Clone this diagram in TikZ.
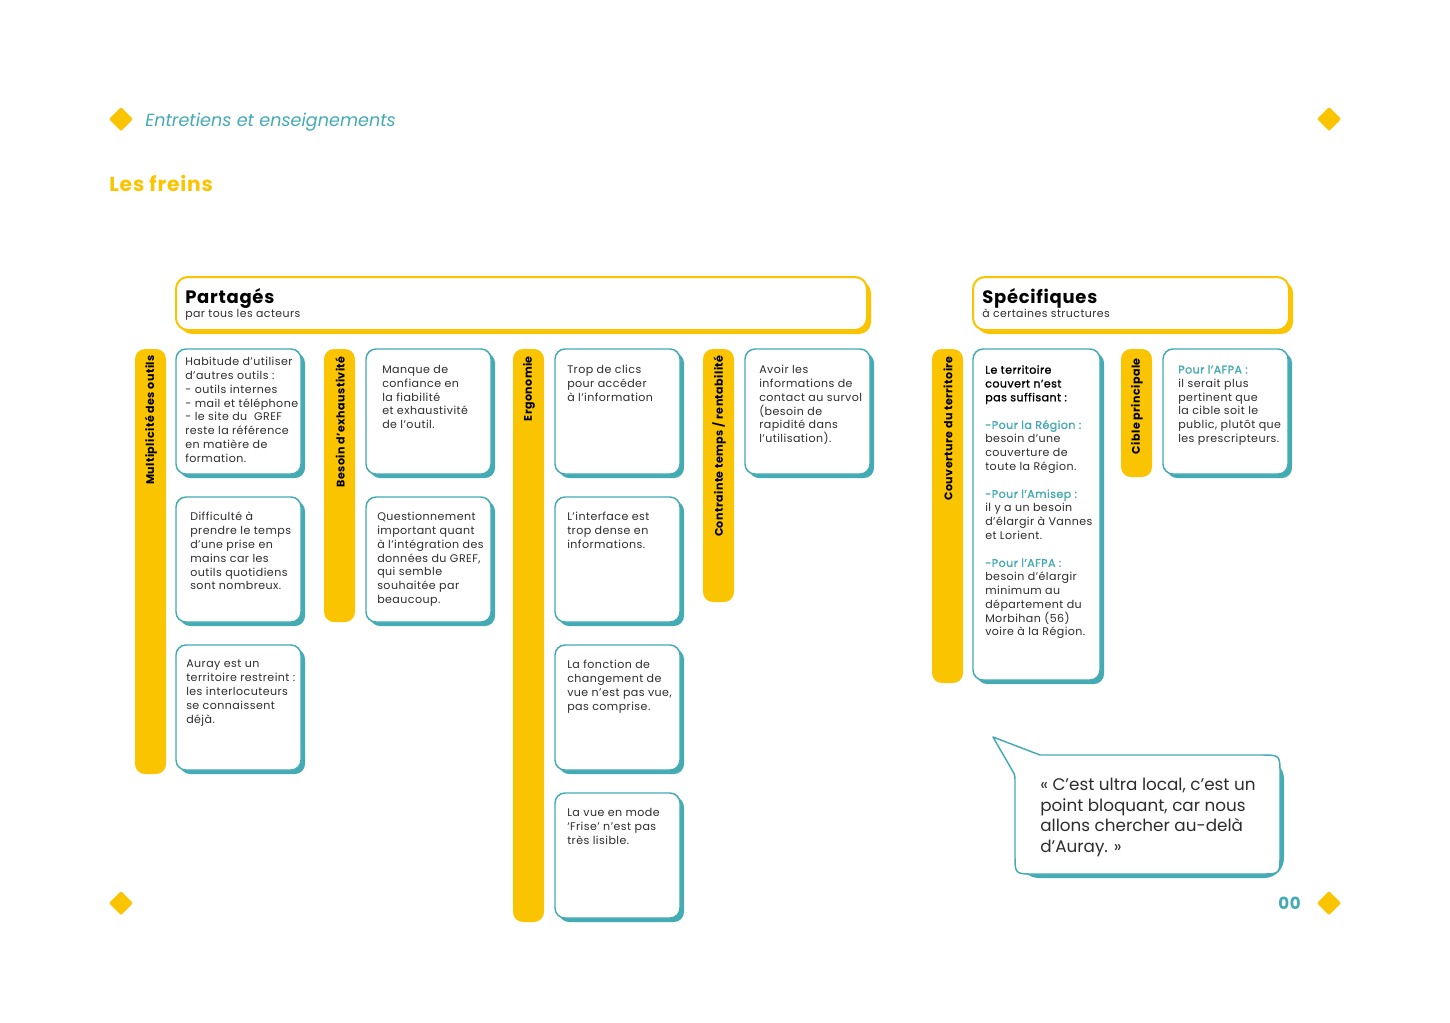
\documentclass[tikz,border=0pt]{standalone}
\usepackage{fontspec}
\setmainfont{Poppins}[LetterSpace=4]
\newfontfamily\plainfont{Poppins}
\newfontfamily\medfont{Poppins}[FakeBold=1.3,LetterSpace=4]
\definecolor{myyellow}{RGB}{250,196,0}
\definecolor{myteal}{RGB}{68,170,180}
\definecolor{mytext}{RGB}{45,45,45}
\newcommand\mkcard[4]{%
  \fill[cardshadow] ({#1+4},{#2+4}) rectangle ({#1+#3+4},{#2+#4+4});
  \draw[card] (#1,#2) rectangle ({#1+#3},{#2+#4});}
\newcommand\mkbar[2]{\fill[bar] (#1,349) rectangle ({#1+31},#2);}
\newcommand\mkdiamond[2]{\fill[myyellow, rounded corners=0.8pt] ({#1-12},#2) -- (#1,{#2-12}) -- ({#1+12},#2) -- (#1,{#2+12}) -- cycle;}
\begin{document}
\begin{tikzpicture}[x=0.75pt,y=-0.75pt,
  card/.style={fill=white, draw=myteal, line width=1.1pt, rounded corners=7.5pt},
  cardshadow/.style={fill=myteal, rounded corners=7.5pt},
  head/.style={fill=white, draw=myyellow, line width=1.5pt, rounded corners=9pt},
  headshadow/.style={fill=myyellow, rounded corners=9pt},
  bar/.style={fill=myyellow, rounded corners=7.5pt},
  barlabel/.style={rotate=90, anchor=east, inner sep=0pt, font=\bfseries\fontsize{8.3}{10}\selectfont, text=black},
  ctext/.style={anchor=north west, inner sep=0pt, align=left, font=\fontsize{8.3}{10.35}\selectfont, text=mytext}]
\fill[white] (0,0) rectangle (1450,1022);
\useasboundingbox (0,0) rectangle (1450,1022);

% decorations
\mkdiamond{121}{119}
\mkdiamond{1329}{119}
\mkdiamond{121}{903}
\mkdiamond{1329}{903}
\node[anchor=base west, inner sep=0pt, text=myteal, font=\plainfont\itshape\fontsize{13.2}{15}\selectfont] (kicker) at (145,126) {Entretiens et enseignements};
\node[anchor=base west, inner sep=0pt, text=myyellow, font=\bfseries\fontsize{15.2}{18}\selectfont] (title) at (109,191) {Les freins};
\node[anchor=base east, inner sep=0pt, text=myteal, font=\bfseries\fontsize{12.5}{15}\selectfont] (pagenum) at (1301,909) {00};

% headers
\fill[headshadow] (180,281) rectangle (871,334);
\draw[head] (176,277) rectangle (867,330);
\node[anchor=base west, inner sep=0pt, font=\bfseries\fontsize{13.5}{16}\selectfont, text=black] (partages) at (185,303) {Partagés};
\node[anchor=base west, inner sep=0pt, font=\fontsize{8.2}{10}\selectfont, text=mytext] (partagessub) at (185,317) {par tous les acteurs};

\fill[headshadow] (977,281) rectangle (1293,334);
\draw[head] (973,277) rectangle (1289,330);
\node[anchor=base west, inner sep=0pt, font=\bfseries\fontsize{13.5}{16}\selectfont, text=black] (specifiques) at (982,303) {Spécifiques};
\node[anchor=base west, inner sep=0pt, font=\fontsize{8.2}{10}\selectfont, text=mytext] (specifiquessub) at (982,317) {à certaines structures};

% bars
\mkbar{135}{774}
\mkbar{324}{622}
\mkbar{513}{922}
\mkbar{703}{602}
\mkbar{932}{683}
\mkbar{1121}{477}
\node[barlabel] (b1) at (151,355) {Multiplicité des outils};
\node[barlabel] (b2) at (340,356) {Besoin d’exhaustivité};
\node[barlabel] (b3) at (529,356) {Ergonomie};
\node[barlabel] (b4) at (719,355) {Contrainte temps / rentabilité};
\node[barlabel] (b5) at (948,356) {Couverture du territoire};
\node[barlabel] (b6) at (1137,358) {Cible principale};

% cards
\mkcard{176}{349}{125}{125}
\mkcard{176}{497}{125}{125}
\mkcard{176}{645}{125}{125}
\mkcard{366}{349}{125}{125}
\mkcard{366}{497}{125}{125}
\mkcard{555}{349}{125}{125}
\mkcard{555}{497}{125}{125}
\mkcard{555}{645}{125}{125}
\mkcard{555}{793}{125}{125}
\mkcard{745}{349}{125}{125}
\mkcard{973}{349}{127}{331}
\mkcard{1163}{349}{125}{125}

\node[ctext] (t11) at (185,357) {Habitude d’utiliser\\d’autres outils :\\- outils internes\\- mail et téléphone\\- le site du~~GREF\\reste la référence\\en matière de\\formation.};
\node[ctext] (t12) at (190,512) {Difficulté à\\prendre le temps\\d’une prise en\\mains car les\\outils quotidiens\\sont nombreux.};
\node[ctext] (t13) at (186,660) {Auray est un\\territoire restreint :\\les interlocuteurs\\se connaissent\\déjà.};
\node[ctext] (t21) at (382,365) {Manque de\\confiance en\\la fiabilité\\et exhaustivité\\de l’outil.};
\node[ctext] (t22) at (377,512) {Questionnement\\important quant\\à l’intégration des\\données du GREF,\\qui semble\\souhaitée par\\beaucoup.};
\node[ctext] (t31) at (567,365) {Trop de clics\\pour accéder\\à l’information};
\node[ctext] (t32) at (567,512) {L’interface est\\trop dense en\\informations.};
\node[ctext] (t33) at (567,660) {La fonction de\\changement de\\vue n’est pas vue,\\pas comprise.};
\node[ctext] (t34) at (567,808) {La vue en mode\\‘Frise’ n’est pas\\très lisible.};
\node[ctext] (t41) at (759,365) {Avoir les\\informations de\\contact au survol\\(besoin de\\rapidité dans\\l’utilisation).};
\node[ctext] (t51) at (985,365) {{\medfont\color{black}Le territoire}\\{\medfont\color{black}couvert n’est}\\{\medfont\color{black}pas suffisant :}\\[10.35pt]{\medfont\color{myteal}-Pour la Région :}\\besoin d’une\\couverture de\\toute la Région.\\[10.35pt]{\medfont\color{myteal}-Pour l’Amisep :}\\il y a un besoin\\d’élargir à Vannes\\et Lorient.\\[10.35pt]{\medfont\color{myteal}-Pour l’AFPA :}\\besoin d’élargir\\minimum au\\département du\\Morbihan (56)\\voire à la Région.};
\node[ctext] (t61) at (1178,365) {{\medfont\color{myteal}Pour l’AFPA :}\\il serait plus\\pertinent que\\la cible soit le\\public, plutôt que\\les prescripteurs.};

% speech bubble
\fill[myteal, rounded corners=15pt] (1019,759) rectangle (1284,878);
\draw[fill=white, draw=myteal, line width=1.1pt, line join=round]
  (1040,755) -- (993,737) -- (1012,770) .. controls (1015,775) .. (1015,782)
  -- (1015,855) .. controls (1015,874) .. (1034,874)
  -- (1261,874) .. controls (1280,874) .. (1280,855)
  -- (1280,774) .. controls (1280,755) .. (1261,755) -- cycle;
\node[anchor=north west, inner sep=0pt, align=left, font=\plainfont\fontsize{12.6}{15.4}\selectfont, text=mytext] (quote) at (1040,778) {« C’est ultra local, c’est un\\point bloquant, car nous\\allons chercher au-delà\\d’Auray. »};
\end{tikzpicture}
\end{document}
